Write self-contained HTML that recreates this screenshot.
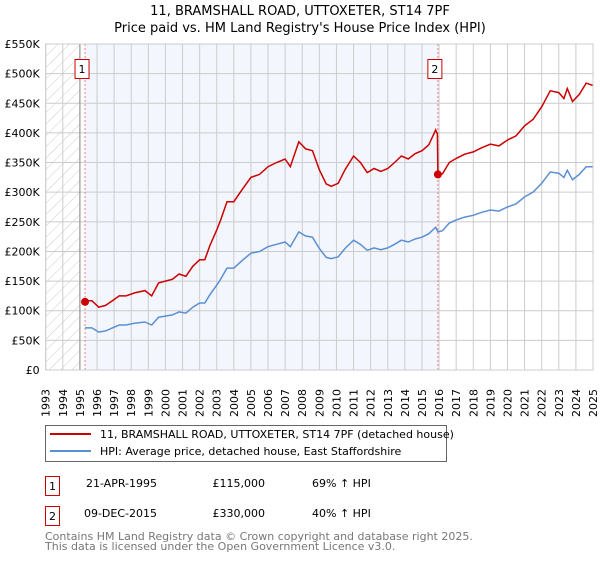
<!DOCTYPE html>
<html><head><meta charset="utf-8"><style>
body{margin:0;background:#fff;font-family:"Liberation Sans","DejaVu Sans",sans-serif;}
svg text{font-family:"DejaVu Sans","Liberation Sans",sans-serif;}
</style></head><body>
<svg id="c" width="600" height="560" xmlns="http://www.w3.org/2000/svg">
<defs><pattern id="hatch" width="8" height="8" patternUnits="userSpaceOnUse" patternTransform="rotate(45)"><line x1="0" y1="0" x2="0" y2="8" stroke="#ccc" stroke-width="1"/></pattern></defs>
<text x="300" y="15" text-anchor="middle" font-size="13" fill="#000">11, BRAMSHALL ROAD, UTTOXETER, ST14 7PF</text>
<text x="300" y="32" text-anchor="middle" font-size="13" fill="#000">Price paid vs. HM Land Registry's House Price Index (HPI)</text>
<g id="plot"></g>
<g>
<rect x="45.5" y="425.5" width="401" height="36" fill="#fff" stroke="#666"/>
<line x1="50" y1="434" x2="91" y2="434" stroke="#cc0000" stroke-width="2"/>
<text x="100" y="438" font-size="11">11, BRAMSHALL ROAD, UTTOXETER, ST14 7PF (detached house)</text>
<line x1="50" y1="451" x2="91" y2="451" stroke="#5b8fd4" stroke-width="2"/>
<text x="100" y="455" font-size="11">HPI: Average price, detached house, East Staffordshire</text>
</g>
<g font-size="11">
<rect x="45.5" y="476.5" width="14" height="19" fill="#fff" stroke="#cc0000"/><text x="52.5" y="490" text-anchor="middle">1</text>
<text x="157" y="487" text-anchor="end">21-APR-1995</text><text x="265" y="487" text-anchor="end">£115,000</text><text x="312" y="487">69% ↑ HPI</text>
<rect x="45.5" y="506.5" width="14" height="19" fill="#fff" stroke="#cc0000"/><text x="52.5" y="520" text-anchor="middle">2</text>
<text x="157" y="517" text-anchor="end">09-DEC-2015</text><text x="265" y="517" text-anchor="end">£330,000</text><text x="312" y="517">40% ↑ HPI</text>
</g>
<text x="45" y="540" font-size="11" fill="#777">Contains HM Land Registry data © Crown copyright and database right 2025.</text>
<text x="45" y="550" font-size="11" fill="#777">This data is licensed under the Open Government Licence v3.0.</text>
</svg>
<script>
const yTicks=[0,50,100,150,200,250,300,350,400,450,500,550];
const yTickLabels=["£0","£50K","£100K","£150K","£200K","£250K","£300K","£350K","£400K","£450K","£500K","£550K"];
const xYears=[1993,1994,1995,1996,1997,1998,1999,2000,2001,2002,2003,2004,2005,2006,2007,2008,2009,2010,2011,2012,2013,2014,2015,2016,2017,2018,2019,2020,2021,2022,2023,2024,2025];
const hpiDates=[1995.3,1995.7,1996.1,1996.5,1996.9,1997.3,1997.7,1998.2,1998.8,1999.2,1999.6,2000.0,2000.4,2000.8,2001.2,2001.6,2002.0,2002.3,2002.6,2003.0,2003.2,2003.6,2004.0,2004.5,2005.0,2005.5,2006.0,2006.5,2007.0,2007.3,2007.8,2008.2,2008.6,2009.0,2009.4,2009.7,2010.1,2010.5,2011.0,2011.4,2011.8,2012.2,2012.6,2013.0,2013.4,2013.8,2014.2,2014.6,2015.0,2015.4,2015.8,2015.93,2016.2,2016.6,2017,2017.5,2018,2018.5,2019,2019.5,2020,2020.5,2021,2021.5,2022,2022.5,2023,2023.3,2023.5,2023.8,2024.2,2024.6,2025];
const hpiValues=[71,71,64,66,71,76,76,79,81,76,89,91,93,98,96,106,113,113,127,143,152,172,172,185,197,200,208,212,216,208,233,226,224,205,190,188,191,205,219,212,202,206,203,206,212,219,216,221,224,230,241,233,235,248,253,258,261,266,270,268,275,280,292,300,315,334,332,325,337,321,330,343,343];
const priceDates=[1995.3,1995.7,1996.1,1996.5,1996.9,1997.3,1997.7,1998.2,1998.8,1999.2,1999.6,2000.0,2000.4,2000.8,2001.2,2001.6,2002.0,2002.3,2002.6,2003.0,2003.2,2003.6,2004.0,2004.5,2005.0,2005.5,2006.0,2006.5,2007.0,2007.3,2007.8,2008.2,2008.6,2009.0,2009.4,2009.7,2010.1,2010.5,2011.0,2011.4,2011.8,2012.2,2012.6,2013.0,2013.4,2013.8,2014.2,2014.6,2015.0,2015.4,2015.8,2015.9,2015.93,2016.2,2016.6,2017,2017.5,2018,2018.5,2019,2019.5,2020,2020.5,2021,2021.5,2022,2022.5,2023,2023.3,2023.5,2023.8,2024.2,2024.6,2025];
const priceValues=[117,117,106,109,117,125,125,130,134,125,147,150,153,162,158,175,186,186,210,236,251,284,284,305,325,330,343,350,356,343,385,373,370,338,314,310,315,338,361,350,333,340,335,340,350,361,356,365,370,380,405,398,330,331,350,357,364,368,375,381,378,388,395,412,423,444,471,468,458,475,453,465,484,480];
const saleDates=[1995.3,2015.93];
const saleValues=[115,330];
const saleLabels=["1","2"];

const NS="http://www.w3.org/2000/svg";
const X0=45.7,X1=593,Y0=370,Y1=44;
const xs=y=>X0+(y-1993)/(2025-1993)*(X1-X0);
const ys=v=>Y0-v/550*(Y0-Y1);
const plot=document.getElementById('plot');
function mk(t,a,p){const e=document.createElementNS(NS,t);for(const k in a)e.setAttribute(k,a[k]);(p||plot).appendChild(e);return e;}
let e;
e=mk('rect',{x:X0,y:Y1,width:X1-X0,height:Y0-Y1,fill:'#fff'});


e=mk('rect',{x:xs(saleDates[0]),y:Y1,width:xs(saleDates[1])-xs(saleDates[0]),height:Y0-Y1,fill:'#f3f6fd'});


e=mk('rect',{x:X0,y:Y1,width:xs(1995)-X0,height:Y0-Y1,fill:'url(#hatch)'});


xYears.forEach(y=>{e=mk('line',{x1:xs(y),x2:xs(y),y1:Y1,y2:Y0,stroke:'#ccc','stroke-width':1});


e=mk('text',{x:0,y:0,transform:`translate(${xs(y)+4},${Y0+47}) rotate(-90)`,'font-size':11});
e.textContent=y;

});
yTicks.forEach((v,i)=>{e=mk('line',{x1:X0,x2:X1,y1:ys(v),y2:ys(v),stroke:'#ccc','stroke-width':1});


e=mk('text',{x:X0-6,y:ys(v)+4,'text-anchor':'end','font-size':11});
e.textContent=yTickLabels[i];

});
e=mk('line',{x1:xs(1995),x2:xs(1995),y1:Y1,y2:Y0,stroke:'#888'});


saleDates.forEach((d,i)=>{e=mk('line',{x1:xs(d),x2:xs(d),y1:Y1,y2:Y0,stroke:'#f08080','stroke-dasharray':'2,2'});

});
const pts=(ds,vs)=>ds.map((d,i)=>xs(d).toFixed(1)+','+ys(vs[i]).toFixed(1)).join(' ');
e=mk('polyline',{points:pts(hpiDates,hpiValues),fill:'none',stroke:'#5b8fd4','stroke-width':1.5});


e=mk('polyline',{points:pts(priceDates,priceValues),fill:'none',stroke:'#cc0000','stroke-width':1.5});


saleDates.forEach((d,i)=>{e=mk('circle',{cx:xs(d),cy:ys(saleValues[i]),r:4,fill:'#cc0000'});


e=mk('rect',{x:xs(d)-10,y:59.5,width:14,height:19,fill:'#fff',stroke:'#cc0000'});


e=mk('text',{x:xs(d)-3,y:73,'text-anchor':'middle','font-size':11});
e.textContent=saleLabels[i];

});
e=mk('rect',{x:X0,y:Y1,width:X1-X0,height:Y0-Y1,fill:'none',stroke:'#ccc'});


</script>
</body></html>
